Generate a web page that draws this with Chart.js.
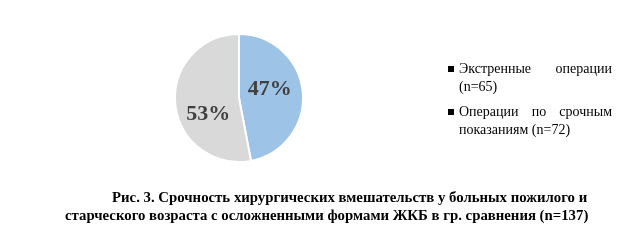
<!DOCTYPE html>
<html>
<head>
<meta charset="utf-8">
<script src="https://cdn.jsdelivr.net/npm/chart.js@4.4.1/dist/chart.umd.min.js"></script>
<style>
  html, body { margin: 0; padding: 0; background: #fff; }
  #wrap { position: relative; width: 624px; height: 245px; overflow: hidden; }
  #chart { position: absolute; left: 0; top: 0; }
  #legend { position: absolute; left: 448px; top: 60px; width: 164px; font-family: "Liberation Serif", serif; font-size: 14px; color: #000; }
  .item { position: relative; padding-left: 11px; line-height: 18px; text-align: justify; margin-bottom: 7px; }
  .box { position: absolute; left: 0; top: 6px; width: 6px; height: 6px; background: #000; }
  .cap { position: absolute; font-family: "Liberation Serif", serif; font-weight: bold; font-size: 14.8px; color: #000; white-space: nowrap; }
</style>
</head>
<body>
<div id="wrap">
  <canvas id="chart" width="624" height="245"></canvas>
  <div id="legend"></div>
  <div class="cap" id="cap1" style="left:112px; top:189px;"></div>
  <div class="cap" id="cap2" style="left:65px; top:207px;"></div>
</div>
<script>
const labels = ['Экстренные операции (n=65)', 'Операции по срочным показаниям (n=72)'];
const values = [47, 53];
const colors = ['#9DC3E6', '#D9D9D9'];
const caption = [
  'Рис. 3. Срочность хирургических вмешательств у больных пожилого и',
  'старческого возраста с осложненными формами ЖКБ в гр. сравнения (n=137)'
];

// legend
const legendEl = document.getElementById('legend');
labels.forEach(l => {
  const d = document.createElement('div');
  d.className = 'item';
  d.innerHTML = '<span class="box"></span>' + l;
  legendEl.appendChild(d);
});
document.getElementById('cap1').textContent = caption[0];
document.getElementById('cap2').textContent = caption[1];

// percent labels inside the slices
const sliceLabels = {
  id: 'sliceLabels',
  afterDatasetsDraw(chart) {
    const ctx = chart.ctx;
    const meta = chart.getDatasetMeta(0);
    ctx.save();
    ctx.font = 'bold 22px "Liberation Serif"';
    ctx.fillStyle = '#404040';
    ctx.textAlign = 'center';
    ctx.textBaseline = 'middle';
    meta.data.forEach((arc, i) => {
      const mid = (arc.startAngle + arc.endAngle) / 2 - 0.3;
      const r = arc.outerRadius * 0.52;
      ctx.fillText(values[i] + '%', arc.x + Math.cos(mid) * r, arc.y + Math.sin(mid) * r + 4);
    });
    ctx.restore();
  }
};

new Chart(document.getElementById('chart').getContext('2d'), {
  type: 'pie',
  data: {
    labels: labels,
    datasets: [{
      data: values,
      backgroundColor: colors,
      borderColor: '#fff',
      borderWidth: 2
    }]
  },
  options: {
    responsive: false,
    animation: false,
    layout: { padding: { left: 174, right: 320, top: 33, bottom: 82 } },
    plugins: {
      legend: { display: false },
      tooltip: { enabled: false }
    }
  },
  plugins: [sliceLabels]
});
</script>
</body>
</html>
